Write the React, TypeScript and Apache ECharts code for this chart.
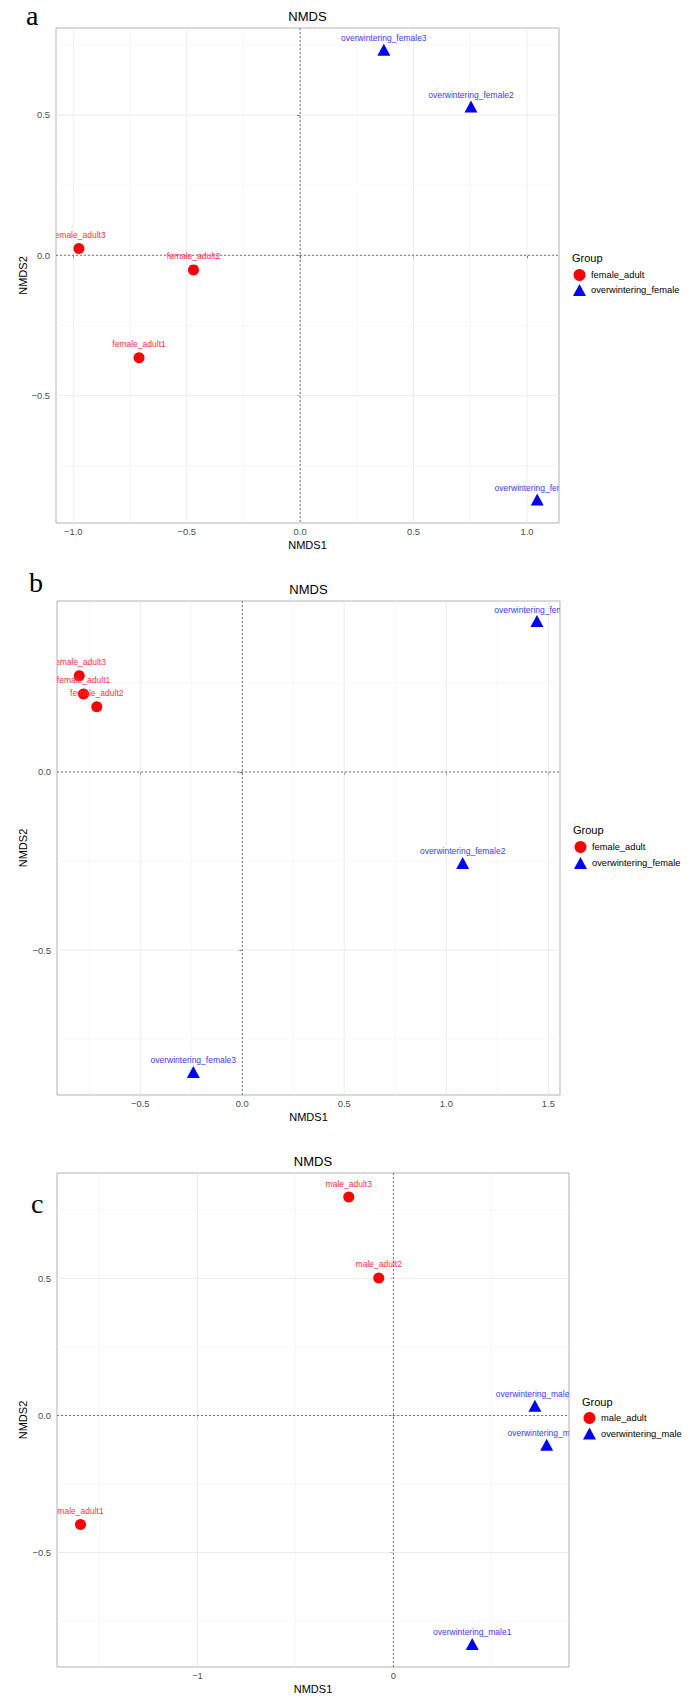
import React, { useEffect, useRef } from 'react';
import * as echarts from 'echarts';

// ---------- Panel a ----------
const aAdultNames = ['female_adult1', 'female_adult2', 'female_adult3'];
const aAdultX = [-0.71, -0.47, -0.975];
const aAdultY = [-0.365, -0.052, 0.024];
const aOverNames = ['overwintering_female1', 'overwintering_female2', 'overwintering_female3'];
const aOverX = [1.045, 0.753, 0.369];
const aOverY = [-0.877, 0.523, 0.725];
const aGroups = ['female_adult', 'overwintering_female'];
const aXTicks = [-1, -0.5, 0, 0.5, 1];
const aYTicks = [-0.5, 0, 0.5];
const aXMinor = [-0.75, -0.25, 0.25, 0.75];
const aYMinor = [-0.75, -0.25, 0.25, 0.75];
const aXRange = [-1.076, 1.141];
const aYRange = [-0.954, 0.81];

// ---------- Panel b ----------
const bAdultNames = ['female_adult1', 'female_adult2', 'female_adult3'];
const bAdultX = [-0.778, -0.713, -0.799];
const bAdultY = [0.219, 0.183, 0.27];
const bOverNames = ['overwintering_female1', 'overwintering_female2', 'overwintering_female3'];
const bOverX = [1.444, 1.08, -0.24];
const bOverY = [0.418, -0.261, -0.848];
const bGroups = ['female_adult', 'overwintering_female'];
const bXTicks = [-0.5, 0, 0.5, 1, 1.5];
const bYTicks = [-0.5, 0];
const bXMinor = [-0.75, -0.25, 0.25, 0.75, 1.25];
const bYMinor = [-0.75, -0.25, 0.25];
const bXRange = [-0.908, 1.557];
const bYRange = [-0.907, 0.48];

// ---------- Panel c ----------
const cAdultNames = ['male_adult1', 'male_adult2', 'male_adult3'];
const cAdultX = [-1.597, -0.075, -0.228];
const cAdultY = [-0.398, 0.502, 0.797];
const cOverNames = ['overwintering_male1', 'overwintering_male2', 'overwintering_male3'];
const cOverX = [0.402, 0.722, 0.782];
const cOverY = [-0.841, 0.028, -0.114];
const cGroups = ['male_adult', 'overwintering_male'];
const cXTicks = [-1, 0];
const cYTicks = [-0.5, 0, 0.5];
const cXMinor = [-1.5, -0.5, 0.5];
const cYMinor = [-0.75, -0.25, 0.25, 0.75];
const cXRange = [-1.717, 0.896];
const cYRange = [-0.918, 0.885];

const SANS = 'Liberation Sans';
const SERIF = 'Liberation Serif';
const RED = '#ff0000';
const BLUE = '#0000ff';
const RED_TXT = '#ff3535';
const BLUE_TXT = '#3b3bff';

const fmt = (dec: number) => (v: number) =>
  (v < 0 ? '\u2212' : '') + Math.abs(v).toFixed(dec);

interface PanelCfg {
  letter: string;
  letterPos: [number, number];
  grid: { left: number; top: number; width: number; height: number };
  legendPos: { left: number; top: number; gap: number; titleX: number; titleY: number };
  groups: string[];
  adultNames: string[]; adultX: number[]; adultY: number[];
  overNames: string[]; overX: number[]; overY: number[];
  xTicks: number[]; yTicks: number[]; xMinor: number[]; yMinor: number[];
  xRange: number[]; yRange: number[];
  xDec: number; yDec: number;
}

const panels: PanelCfg[] = [
  {
    letter: 'a', letterPos: [26, 15.5],
    grid: { left: 56, top: 28, width: 503, height: 495 },
    legendPos: { left: 573, top: 269, gap: 3, titleX: 572, titleY: 258 },
    groups: aGroups,
    adultNames: aAdultNames, adultX: aAdultX, adultY: aAdultY,
    overNames: aOverNames, overX: aOverX, overY: aOverY,
    xTicks: aXTicks, yTicks: aYTicks, xMinor: aXMinor, yMinor: aYMinor,
    xRange: aXRange, yRange: aYRange, xDec: 1, yDec: 1,
  },
  {
    letter: 'b', letterPos: [29, 582],
    grid: { left: 57, top: 601, width: 503, height: 494 },
    legendPos: { left: 574, top: 841, gap: 4, titleX: 573, titleY: 830 },
    groups: bGroups,
    adultNames: bAdultNames, adultX: bAdultX, adultY: bAdultY,
    overNames: bOverNames, overX: bOverX, overY: bOverY,
    xTicks: bXTicks, yTicks: bYTicks, xMinor: bXMinor, yMinor: bYMinor,
    xRange: bXRange, yRange: bYRange, xDec: 1, yDec: 1,
  },
  {
    letter: 'c', letterPos: [31, 1203],
    grid: { left: 57, top: 1173, width: 512, height: 494 },
    legendPos: { left: 583, top: 1412, gap: 3.5, titleX: 582, titleY: 1401.7 },
    groups: cGroups,
    adultNames: cAdultNames, adultX: cAdultX, adultY: cAdultY,
    overNames: cOverNames, overX: cOverX, overY: cOverY,
    xTicks: cXTicks, yTicks: cYTicks, xMinor: cXMinor, yMinor: cYMinor,
    xRange: cXRange, yRange: cYRange, xDec: 0, yDec: 1,
  },
];

function vLines(i: number, values: number[], color: string, width: number, dash: any, z: number, name: string) {
  return {
    type: 'custom', name, xAxisIndex: i, yAxisIndex: i, silent: true, z, clip: true,
    data: values.map((v) => [v, 0]),
    renderItem: (params: any, api: any) => {
      const cs = params.coordSys;
      const px = api.coord([api.value(0), api.value(1)])[0];
      return {
        type: 'line',
        shape: { x1: px, y1: cs.y, x2: px, y2: cs.y + cs.height },
        style: { stroke: color, lineWidth: width, lineDash: dash, fill: null },
      };
    },
  };
}

function hLines(i: number, values: number[], color: string, width: number, dash: any, z: number, name: string) {
  return {
    type: 'custom', name, xAxisIndex: i, yAxisIndex: i, silent: true, z, clip: true,
    data: values.map((v) => [0, v]),
    renderItem: (params: any, api: any) => {
      const cs = params.coordSys;
      const py = api.coord([api.value(0), api.value(1)])[1];
      return {
        type: 'line',
        shape: { x1: cs.x, y1: py, x2: cs.x + cs.width, y2: py },
        style: { stroke: color, lineWidth: width, lineDash: dash, fill: null },
      };
    },
  };
}

function labelSeries(i: number, names: string[], xs: number[], ys: number[], color: string, name: string) {
  return {
    type: 'custom', name, xAxisIndex: i, yAxisIndex: i, silent: true, z: 10, clip: true,
    data: xs.map((x, k) => [x, ys[k]]),
    renderItem: (params: any, api: any) => {
      const p = api.coord([api.value(0), api.value(1)]);
      return {
        type: 'text',
        x: p[0],
        y: p[1] - 13.5,
        style: {
          text: names[params.dataIndex],
          fill: color,
          fontSize: 8.5,
          fontFamily: SANS,
          align: 'center',
          textAlign: 'center',
          verticalAlign: 'middle',
          textVerticalAlign: 'middle',
        },
      };
    },
  };
}

function buildOption() {
  const grids: any[] = [];
  const xAxes: any[] = [];
  const yAxes: any[] = [];
  const series: any[] = [];
  const legends: any[] = [];
  const graphics: any[] = [];

  panels.forEach((p, i) => {
    const g = p.grid;
    grids.push({
      left: g.left, top: g.top, width: g.width, height: g.height,
      show: true, backgroundColor: '#ffffff', borderColor: '#b3b3b3', borderWidth: 1,
    });
    xAxes.push({
      type: 'value', gridIndex: i, min: p.xRange[0], max: p.xRange[1],
      axisLine: { show: false },
      splitLine: { show: false },
      axisTick: { show: true, length: 3, customValues: p.xTicks, lineStyle: { color: '#333333', width: 1 } },
      axisLabel: {
        customValues: p.xTicks, formatter: fmt(p.xDec), margin: 4,
        fontSize: 9.4, fontFamily: SANS, color: '#4d4d4d',
      },
    });
    yAxes.push({
      type: 'value', gridIndex: i, min: p.yRange[0], max: p.yRange[1],
      axisLine: { show: false },
      splitLine: { show: false },
      axisTick: { show: true, length: 3, customValues: p.yTicks, lineStyle: { color: '#333333', width: 1 } },
      axisLabel: {
        customValues: p.yTicks, formatter: fmt(p.yDec), margin: 6,
        fontSize: 9.4, fontFamily: SANS, color: '#4d4d4d',
      },
    });

    series.push(vLines(i, p.xMinor, '#f3f3f3', 0.6, null, 1, `gxm${i}`));
    series.push(hLines(i, p.yMinor, '#f3f3f3', 0.6, null, 1, `gym${i}`));
    series.push(vLines(i, p.xTicks, '#e8e8e8', 0.8, null, 1, `gx${i}`));
    series.push(hLines(i, p.yTicks, '#e8e8e8', 0.8, null, 1, `gy${i}`));
    series.push(vLines(i, [0], '#555555', 0.8, [2, 2], 2, `zx${i}`));
    series.push(hLines(i, [0], '#555555', 0.8, [2, 2], 2, `zy${i}`));

    series.push({
      type: 'scatter', name: p.groups[0], xAxisIndex: i, yAxisIndex: i, silent: true, z: 5,
      data: p.adultX.map((x, k) => [x, p.adultY[k]]),
      symbol: 'circle', symbolSize: 11,
      itemStyle: { color: RED, opacity: 1 },
    });
    series.push({
      type: 'scatter', name: p.groups[1], xAxisIndex: i, yAxisIndex: i, silent: true, z: 5,
      data: p.overX.map((x, k) => [x, p.overY[k]]),
      symbol: 'triangle', symbolSize: [13, 12], symbolOffset: [0, -2],
      itemStyle: { color: BLUE, opacity: 1 },
    });
    series.push(labelSeries(i, p.adultNames, p.adultX, p.adultY, RED_TXT, `la${i}`));
    series.push(labelSeries(i, p.overNames, p.overX, p.overY, BLUE_TXT, `lo${i}`));

    legends.push({
      orient: 'vertical', left: p.legendPos.left, top: p.legendPos.top,
      padding: 0, itemGap: p.legendPos.gap, itemWidth: 13, itemHeight: 12,
      selectedMode: false,
      textStyle: { fontSize: 9.3, fontFamily: SANS, color: '#000000' },
      data: [
        { name: p.groups[0], icon: 'circle', itemStyle: { color: RED } },
        { name: p.groups[1], icon: 'triangle', itemStyle: { color: BLUE } },
      ],
    });

    const cx = g.left + g.width / 2;
    const cy = g.top + g.height / 2;
    graphics.push({
      type: 'text', x: p.letterPos[0], y: p.letterPos[1], silent: true,
      style: {
        text: p.letter, fill: '#000', fontSize: 28, fontFamily: SERIF,
        textAlign: 'left', textVerticalAlign: 'middle',
      },
    });
    graphics.push({
      type: 'text', x: cx, y: g.top - 11.7, silent: true,
      style: { text: 'NMDS', fill: '#000', fontSize: 13, fontFamily: SANS, textAlign: 'center', textVerticalAlign: 'middle' },
    });
    graphics.push({
      type: 'text', x: cx, y: g.top + g.height + 21.5, silent: true,
      style: { text: 'NMDS1', fill: '#000', fontSize: 11, fontFamily: SANS, textAlign: 'center', textVerticalAlign: 'middle' },
    });
    graphics.push({
      type: 'text', x: 23, y: cy, rotation: Math.PI / 2, silent: true,
      style: { text: 'NMDS2', fill: '#000', fontSize: 11, fontFamily: SANS, textAlign: 'center', textVerticalAlign: 'middle' },
    });
    graphics.push({
      type: 'text', x: p.legendPos.titleX, y: p.legendPos.titleY, silent: true,
      style: { text: 'Group', fill: '#000', fontSize: 11, fontFamily: SANS, textAlign: 'left', textVerticalAlign: 'middle' },
    });
  });

  return {
    animation: false,
    backgroundColor: '#ffffff',
    grid: grids,
    xAxis: xAxes,
    yAxis: yAxes,
    legend: legends,
    series,
    graphic: graphics,
  };
}

export default function App() {
  const ref = useRef<HTMLDivElement>(null);
  useEffect(() => {
    if (!ref.current) return;
    const chart = echarts.init(ref.current, null, { renderer: 'svg' });
    chart.setOption(buildOption() as any);
    return () => chart.dispose();
  }, []);
  return (
    <div
      ref={ref}
      style={{ position: 'absolute', left: 0, top: 0, width: 696, height: 1704, background: '#fff' }}
    />
  );
}
